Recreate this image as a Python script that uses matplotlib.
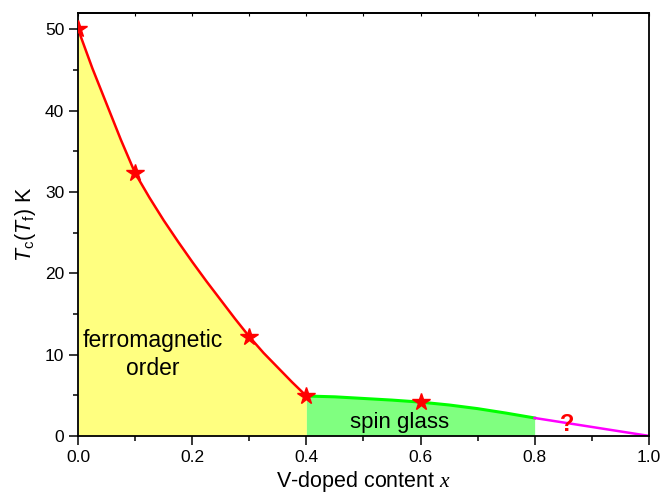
import matplotlib
matplotlib.use("Agg")
import matplotlib.pyplot as plt
from matplotlib.ticker import MultipleLocator, FormatStrFormatter

plt.rcParams['font.family'] = ['Liberation Sans', 'DejaVu Sans']
plt.rcParams['mathtext.fontset'] = 'custom'
plt.rcParams['mathtext.rm'] = 'Liberation Sans'
plt.rcParams['mathtext.sf'] = 'Liberation Sans:italic'
plt.rcParams['mathtext.it'] = 'Liberation Serif:italic'

# measured points (stars)
star_x = [0.0, 0.1, 0.3, 0.4, 0.6]
star_y = [50.0, 32.3, 12.2, 4.9, 4.15]

# smooth curves
fm_x = [0.0, 0.025, 0.05, 0.075, 0.1, 0.125, 0.15, 0.175, 0.2, 0.225, 0.25, 0.275, 0.3, 0.325, 0.35, 0.375, 0.4]
fm_y = [50.0, 45.2, 40.8, 36.4, 32.3, 29.3, 26.5, 23.9, 21.4, 19.0, 16.7, 14.4, 12.2, 10.2, 8.4, 6.6, 4.9]
sg_x = [0.4, 0.45, 0.5, 0.55, 0.6, 0.65, 0.7, 0.75, 0.8]
sg_y = [4.9, 4.8, 4.6, 4.4, 4.15, 3.8, 3.35, 2.8, 2.2]
unk_x = [0.8, 0.9, 1.0]
unk_y = [2.2, 1.1, 0.0]

fig = plt.figure(figsize=(6.62, 5.01), dpi=100)
ax = fig.add_axes([0.118, 0.13, 0.862, 0.844])

ax.fill_between(fm_x, 0, fm_y, color='#ffff80', lw=0)
ax.fill_between(sg_x, 0, sg_y, color='#80ff80', lw=0)
ax.plot(fm_x, fm_y, color='red', lw=1.8)
ax.plot(sg_x, sg_y, color='#00ff00', lw=2.2)
ax.plot(unk_x, unk_y, color='magenta', lw=1.8)
ax.plot(star_x, star_y, ls='none', marker='*', ms=13, color='red', zorder=5)

ax.text(0.13, 10.0, 'ferromagnetic\norder', ha='center', va='center',
        fontsize=16.5, linespacing=1.25)
ax.text(0.563, 1.6, 'spin glass', ha='center', va='center', fontsize=16)
ax.text(0.857, 1.4, '?', ha='center', va='center', fontsize=17,
        color='red', fontweight='bold')

ax.set_xlim(0, 1.0)
ax.set_ylim(0, 52)
ax.xaxis.set_major_locator(MultipleLocator(0.2))
ax.xaxis.set_minor_locator(MultipleLocator(0.1))
ax.yaxis.set_major_locator(MultipleLocator(10))
ax.yaxis.set_minor_locator(MultipleLocator(5))
ax.xaxis.set_major_formatter(FormatStrFormatter('%.1f'))

for s in ax.spines.values():
    s.set_linewidth(1.3)
ax.tick_params(which='major', direction='out', length=6.5, width=1.1, labelsize=12.5)
ax.tick_params(which='minor', direction='out', length=3.5, width=1.1)

# tiny inward ticks along the top
top = ax.secondary_xaxis('top')
top.xaxis.set_major_locator(MultipleLocator(0.1))
top.tick_params(direction='in', length=2, width=0.8, labeltop=False)
top.spines['top'].set_linewidth(1.3)

ax.set_xlabel(r'V-doped content $x$', fontsize=15.5, labelpad=3)
ax.set_ylabel(r'$\mathsf{T}_{\rm c}$($\mathsf{T}_{\rm f}$) K', fontsize=15.5, labelpad=5)

fig.savefig('out.png', dpi=100)
